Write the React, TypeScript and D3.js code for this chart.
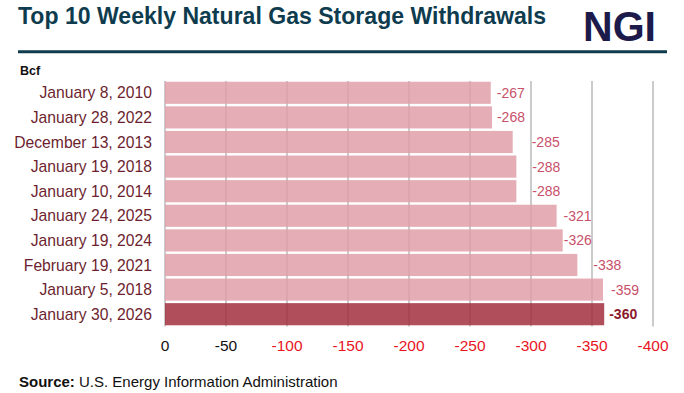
import React from "react";
import * as d3 from "d3";

const categories = [
  "January 8, 2010",
  "January 28, 2022",
  "December 13, 2013",
  "January 19, 2018",
  "January 10, 2014",
  "January 24, 2025",
  "January 19, 2024",
  "February 19, 2021",
  "January 5, 2018",
  "January 30, 2026",
];
const values = [-267, -268, -285, -288, -288, -321, -326, -338, -359, -360];
const tickValues = [0, -50, -100, -150, -200, -250, -300, -350, -400];
const highlightIndex = 9;

const W = 684;
const H = 393;
const FONT = "'Liberation Sans', Arial, Helvetica, sans-serif";
// label offsets from bar ends (px), matching original manual placement
const labelNudge = [6, 5, 19, 16, 16, 7, 1, 16, 8, 5];

export default function App() {
  const x = d3.scaleLinear().domain([0, -400]).range([165, 653]);
  const y = d3
    .scaleBand<string>()
    .domain(categories)
    .range([80.5, 326.5])
    .paddingInner(0.1)
    .paddingOuter(0.05);
  const bh = y.bandwidth();

  return (
    <svg
      width={W}
      height={H}
      style={{ position: "absolute", left: 0, top: 0, background: "#fff" }}
      fontFamily={FONT}
    >
      <rect x={0} y={0} width={W} height={H} fill="#fff" />
      {/* title */}
      <text
        x={18}
        y={24}
        fontSize={24.5}
        fontWeight="bold"
        fill="#0e3c4e"
        textLength={528}
        lengthAdjust="spacingAndGlyphs"
      >
        Top 10 Weekly Natural Gas Storage Withdrawals
      </text>
      <text
        x={583}
        y={40.7}
        fontSize={43}
        fontWeight="bold"
        fill="#1c1a4a"
        textLength={73}
        lengthAdjust="spacingAndGlyphs"
      >
        NGI
      </text>
      <line x1={18} x2={667} y1={51.7} y2={51.7} stroke="#0e3c4e" strokeWidth={3} />
      <text x={20} y={74.5} fontSize={12.5} fontWeight="bold" fill="#111">
        Bcf
      </text>

      {/* gridlines */}
      {tickValues.map((t) => (
        <line
          key={"g" + t}
          x1={x(t)}
          x2={x(t)}
          y1={81}
          y2={326.5}
          stroke="#a8a8a8"
          strokeWidth={1.2}
        />
      ))}

      {/* bars */}
      {values.map((v, i) => (
        <rect
          key={"b" + i}
          x={x(0)}
          y={y(categories[i])}
          width={x(v) - x(0)}
          height={bh}
          fill={i === highlightIndex ? "#a22f40" : "#e1a0a9"}
          fillOpacity={0.85}
        />
      ))}

      {/* value labels */}
      {values.map((v, i) => (
        <text
          key={"v" + i}
          x={x(v) + labelNudge[i]}
          y={(y(categories[i]) as number) + bh / 2 + 5}
          fontSize={14}
          fontWeight={i === highlightIndex ? "bold" : "normal"}
          fill={i === highlightIndex ? "#8c1a2c" : "#c8506a"}
        >
          {v}
        </text>
      ))}

      {/* category labels */}
      {categories.map((c) => (
        <text
          key={"c" + c}
          x={152}
          y={(y(c) as number) + bh / 2 + 5.5}
          fontSize={15.7}
          textAnchor="end"
          fill="#6d1f2f"
        >
          {c}
        </text>
      ))}

      {/* x tick labels */}
      {tickValues.map((t) => (
        <text
          key={"t" + t}
          x={x(t)}
          y={351}
          fontSize={15.5}
          textAnchor="middle"
          fill={t <= -100 ? "#e8141e" : "#111"}
        >
          {t}
        </text>
      ))}

      {/* source */}
      <text x={19} y={386.5} fontSize={15} fill="#111">
        <tspan fontWeight="bold">Source:</tspan>
        <tspan> U.S. Energy Information Administration</tspan>
      </text>
    </svg>
  );
}
